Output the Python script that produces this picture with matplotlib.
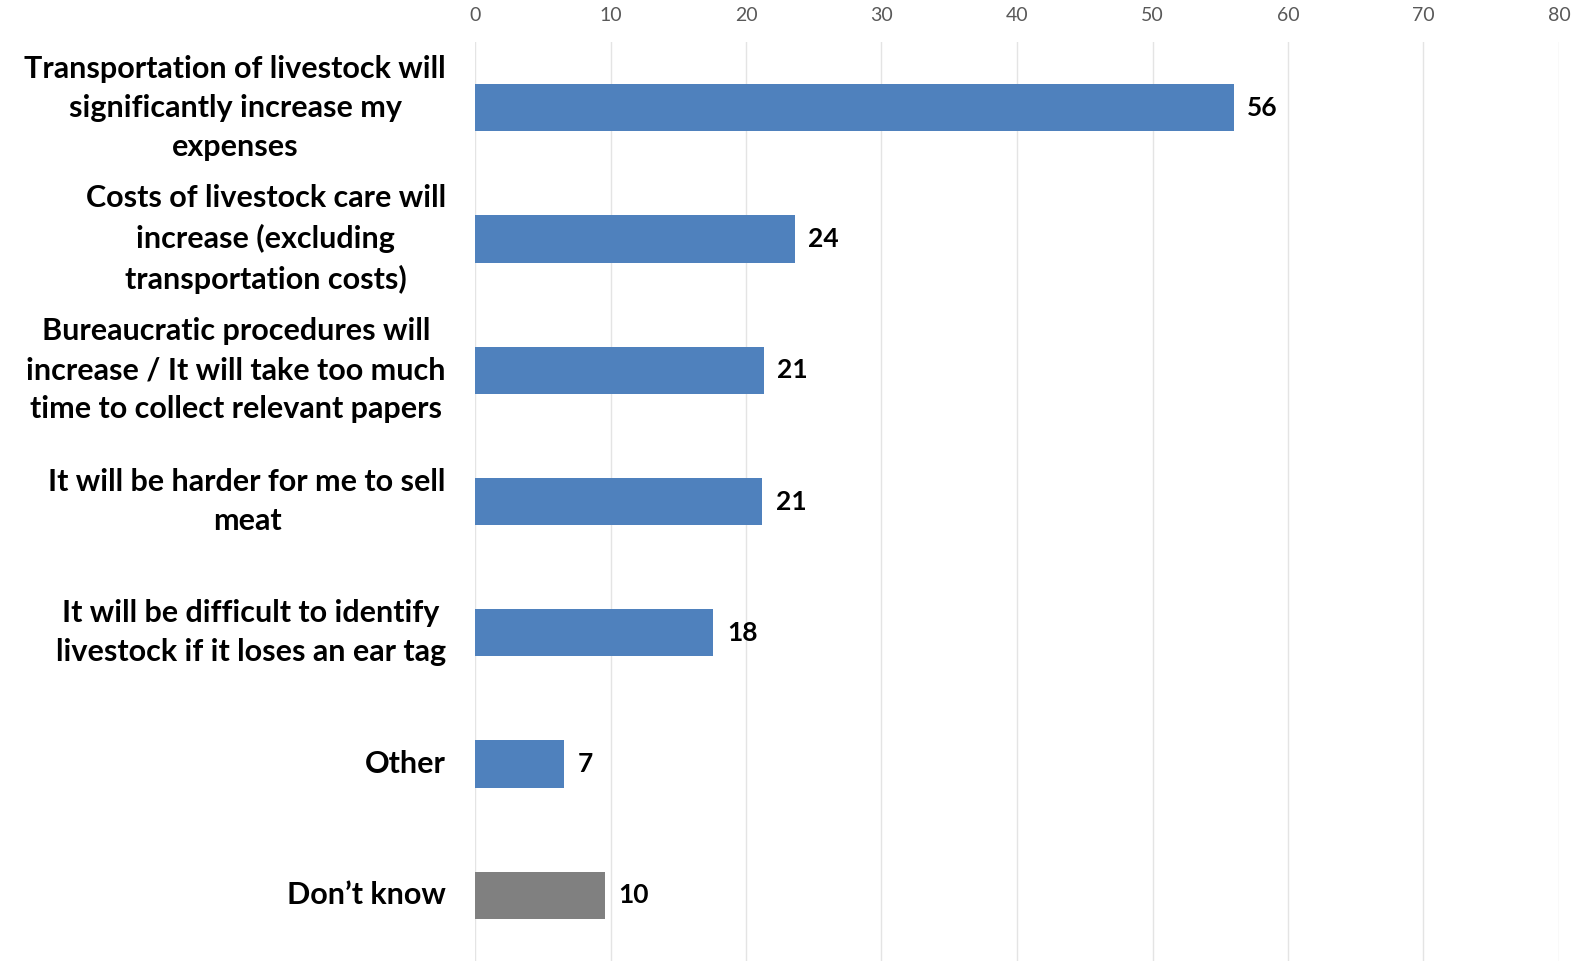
import matplotlib
matplotlib.use("Agg")
import matplotlib.pyplot as plt

categories = [
    "Transportation of livestock will\nsignificantly increase my\nexpenses",
    "Costs of livestock care will\nincrease (excluding\ntransportation costs)",
    "Bureaucratic procedures will\nincrease / It will take too much\ntime to collect relevant papers",
    "It will be harder for me to sell\nmeat",
    "It will be difficult to identify\nlivestock if it loses an ear tag",
    "Other",
    "Don\u2019t know",
]
values = [56.0, 23.6, 21.3, 21.2, 17.6, 6.6, 9.6]
value_labels = ["56", "24", "21", "21", "18", "7", "10"]
colors = ["#4f81bd"] * 6 + ["#808080"]
xticks = [0, 10, 20, 30, 40, 50, 60, 70, 80]

plt.rcParams['font.family'] = ['Lato', 'DejaVu Sans']

fig = plt.figure(figsize=(15.75, 9.61), dpi=100)
ax = fig.add_axes([475/1575, 0.0, 1084/1575, 919/961])

y = list(range(len(categories)))
ax.barh(y, values, height=0.36, color=colors, zorder=3)
ax.set_ylim(len(categories) - 0.5, -0.5)
ax.set_xlim(0, 80)
ax.set_xticks(xticks)
ax.xaxis.tick_top()
ax.tick_params(axis='x', length=0, pad=13, labelsize=14, labelcolor='#595959')
ax.set_yticks(y)
ax.set_yticklabels(categories, fontsize=22, fontweight='bold', multialignment='center',
                   linespacing=1.48, va='center')
ax.tick_params(axis='y', length=0, pad=21)
for spine in ax.spines.values():
    spine.set_visible(False)
ax.grid(axis='x', color='#e4e4e4', linewidth=1, zorder=0)
ax.axvline(0, color='#d0d0d0', linewidth=1.2, zorder=1)

for yi, v, lab in zip(y, values, value_labels):
    ax.text(v + 1.0, yi, lab, va='center', ha='left', fontsize=19, fontweight='bold', color='black')

fig.savefig("out.png", dpi=100)
